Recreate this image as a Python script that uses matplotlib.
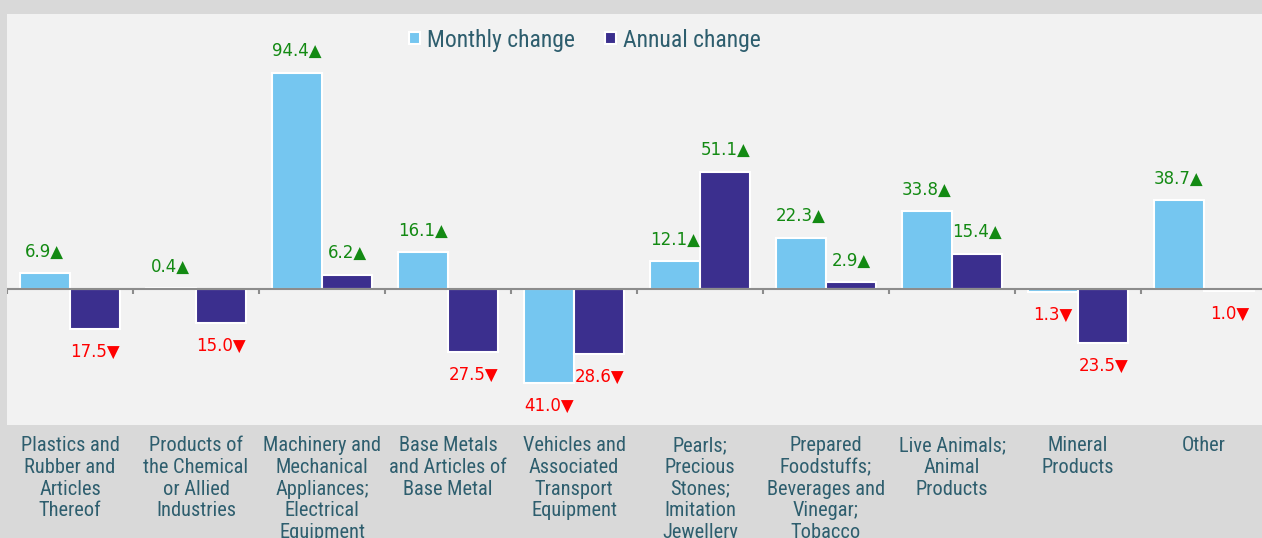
import matplotlib
matplotlib.use("Agg")
import matplotlib.pyplot as plt
import numpy as np

categories = ["Plastics and\nRubber and\nArticles\nThereof",
              "Products of\nthe Chemical\nor Allied\nIndustries",
              "Machinery and\nMechanical\nAppliances;\nElectrical\nEquipment",
              "Base Metals\nand Articles of\nBase Metal",
              "Vehicles and\nAssociated\nTransport\nEquipment",
              "Pearls;\nPrecious\nStones;\nImitation\nJewellery",
              "Prepared\nFoodstuffs;\nBeverages and\nVinegar;\nTobacco",
              "Live Animals;\nAnimal\nProducts",
              "Mineral\nProducts",
              "Other"]
monthly = [6.9, 0.4, 94.4, 16.1, -41.0, 12.1, 22.3, 33.8, -1.3, 38.7]
annual = [-17.5, -15.0, 6.2, -27.5, -28.6, 51.1, 2.9, 15.4, -23.5, -1.0]

c_month = "#75c6f0"
c_year = "#3b2f8e"
txt = "#2e5e6e"
narrow = ["Roboto Condensed", "DejaVu Sans"]

fig = plt.figure(figsize=(12.62, 5.38), dpi=100)
fig.patch.set_facecolor("#d9d9d9")
ax = fig.add_axes([7/1262, 113/538, 1260/1262, 411/538])
ax.set_facecolor("#f2f2f2")
for s in ax.spines.values():
    s.set_visible(False)

x = np.arange(len(categories))
w = 0.4
b1 = ax.bar(x - w/2, monthly, w, color=c_month, edgecolor="white", linewidth=1.5,
            label="Monthly change", zorder=2)
b2 = ax.bar(x + w/2, annual, w, color=c_year, edgecolor="white", linewidth=1.5,
            label="Annual change", zorder=2)

ax.set_xlim(-0.5, len(categories) - 0.5)
ax.set_ylim(-59.4, 120)
ax.axhline(0, color="#8c8c8c", lw=1.5, zorder=3)
ax.vlines(np.arange(len(categories) + 1) - 0.5, -2.2, 0, color="#8c8c8c", lw=1.5, zorder=3)

def label(xs, vals):
    for xi, v in zip(xs, vals):
        if v >= 0:
            ax.annotate(f"{abs(v):.1f}\u25b2", (xi, v), xytext=(0, 9), textcoords="offset points",
                        ha="center", va="bottom", color="#138a13", fontsize=12)
        else:
            ax.annotate(f"{abs(v):.1f}\u25bc", (xi, v), xytext=(0, -10), textcoords="offset points",
                        ha="center", va="top", color="#ff0000", fontsize=12)

label(x - w/2, monthly)
label(x + w/2, annual)

ax.set_yticks([])
ax.set_xticks(x)
ax.set_xticklabels(categories, family=narrow, stretch="condensed", fontsize=14.7,
                   color=txt, linespacing=1.18)
ax.tick_params(axis="x", length=0, pad=8)

fig.legend(handles=[b1, b2], loc="center", bbox_to_anchor=(585/1262, 1 - 40/538), ncol=2,
           frameon=False, prop={"family": narrow, "stretch": "condensed", "size": 17},
           labelcolor=txt, handlelength=0.45, handleheight=0.45, handletextpad=0.3,
           columnspacing=1.3)

fig.savefig("out.png", dpi=100, facecolor=fig.get_facecolor())
